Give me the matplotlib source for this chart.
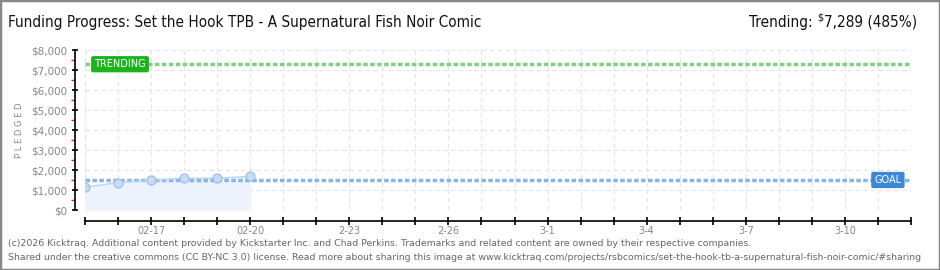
import matplotlib
matplotlib.use("Agg")
import matplotlib.pyplot as plt
from matplotlib.patches import Rectangle

plt.rcParams['font.family'] = ['DejaVu Sans']

# 数据
days = [0, 1, 2, 3, 4, 5]          # 0 = 02-15
pledged = [1140, 1370, 1480, 1590, 1590, 1680]
goal = 1500
trending = 7289
n_days = 25
tick_days = [2, 5, 8, 11, 14, 17, 20, 23]
tick_labels = ['02-17', '02-20', '2-23', '2-26', '3-1', '3-4', '3-7', '3-10']
y_ticks = list(range(0, 8001, 1000))
y_labels = ['$0', '$1,000', '$2,000', '$3,000', '$4,000', '$5,000', '$6,000', '$7,000', '$8,000']

title = 'Funding Progress: Set the Hook TPB - A Supernatural Fish Noir Comic'
footer1 = ('(c)2026 Kicktraq. Additional content provided by Kickstarter Inc. and Chad Perkins. '
           'Trademarks and related content are owned by their respective companies.')
footer2 = ('Shared under the creative commons (CC BY-NC 3.0) license. Read more about sharing this image at '
           'www.kicktraq.com/projects/rsbcomics/set-the-hook-tb-a-supernatural-fish-noir-comic/#sharing')

W, H = 940, 270
fig = plt.figure(figsize=(W / 100, H / 100), dpi=100)
ax = fig.add_axes([85 / W, 1 - 210 / H, (911 - 85) / W, 160 / H])

# 网格
for d in range(n_days + 1):
    ax.axvline(d, color='#e4e4e4', lw=0.8, ls=(0, (4, 3)), zorder=0)
for v in y_ticks[1:]:
    ax.axhline(v, color='#e4e4e4', lw=0.8, ls=(0, (4, 3)), zorder=0)

# 数据
ax.fill_between(days, pledged, 0, color='#ecf3fc', zorder=1)
ax.plot(days, pledged, color='#b8d4f0', lw=1, zorder=3)
ax.plot(days, pledged, 'o', ms=6.5, mfc='#c6dcf5', mec='#95bbe6', mew=0.8, zorder=4)

# 目标线和趋势线
ax.axhline(goal, color='#8ab4e2', lw=2.5, ls=(0, (1.3, 0.7)), zorder=2)
ax.axhline(trending, color='#80d080', lw=2.5, ls=(0, (1.3, 0.7)), zorder=2)
ax.text(1.06, trending, 'TRENDING', color='white', fontsize=7,
        ha='center', va='center', zorder=5,
        bbox=dict(boxstyle='round,pad=0.25,rounding_size=0.15', fc='#1db31d', ec='#1db31d'))
ax.text(24.3, goal, 'GOAL', color='white', fontsize=7,
        ha='center', va='center', zorder=5,
        bbox=dict(boxstyle='round,pad=0.25,rounding_size=0.15', fc='#3c88d8', ec='#3c88d8'))

ax.set_xlim(0, n_days)
ax.set_ylim(0, 8000)

for s in ['top', 'right']:
    ax.spines[s].set_visible(False)
ax.spines['left'].set_position(('outward', 7.2))
ax.spines['bottom'].set_position(('outward', 8))
ax.spines['left'].set_linewidth(1.2)
ax.spines['bottom'].set_linewidth(1.2)

ax.set_yticks(y_ticks)
ax.set_yticklabels(y_labels, fontsize=7.5, color='#888888')
ax.set_yticks(list(range(500, 8000, 1000)), minor=True)
ax.tick_params(axis='y', which='major', direction='inout', length=5, width=1.2, pad=3)
ax.tick_params(axis='y', which='minor', direction='out', length=3, width=1, color='#ee2222')

ax.set_xticks(range(n_days + 1))
ax.set_xticklabels(['' for d in range(n_days + 1)])
for d, lab in zip(tick_days, tick_labels):
    ax.text(d, -1030, lab, ha='center', va='center', fontsize=7, color='#888888')
ax.tick_params(axis='x', direction='inout', length=6, width=1.2)

fig.text(20 / W, 1 - 130 / H, 'P L E D G E D', rotation=90, ha='center', va='center',
         fontsize=6, color='#888888')

# 标题
tf = dict(fontsize=11, color='#111111', stretch='condensed')
fig.text(8 / W, 1 - 22 / H, title, ha='left', va='center', **tf)
t3 = fig.text(917 / W, 1 - 22 / H, '7,289 (485%)', ha='right', va='center', **tf)
fig.canvas.draw()
x0 = t3.get_window_extent().x0
t2 = fig.text((x0 - 1) / W, 1 - 17 / H, '$', ha='right', va='center', fontsize=7, color='#111111')
fig.canvas.draw()
x1 = t2.get_window_extent().x0
fig.text((x1 - 4) / W, 1 - 22 / H, 'Trending:', ha='right', va='center', **tf)

# 页脚
fig.text(8 / W, 1 - 243 / H, footer1, ha='left', va='center', fontsize=6.75, color='#666666')
fig.text(8 / W, 1 - 257 / H, footer2, ha='left', va='center', fontsize=6.75, color='#666666')

fig.patches.append(Rectangle((0, 0), 1, 1, transform=fig.transFigure, fill=False,
                             ec='#888888', lw=2.5))

fig.savefig('out.png', dpi=100)
